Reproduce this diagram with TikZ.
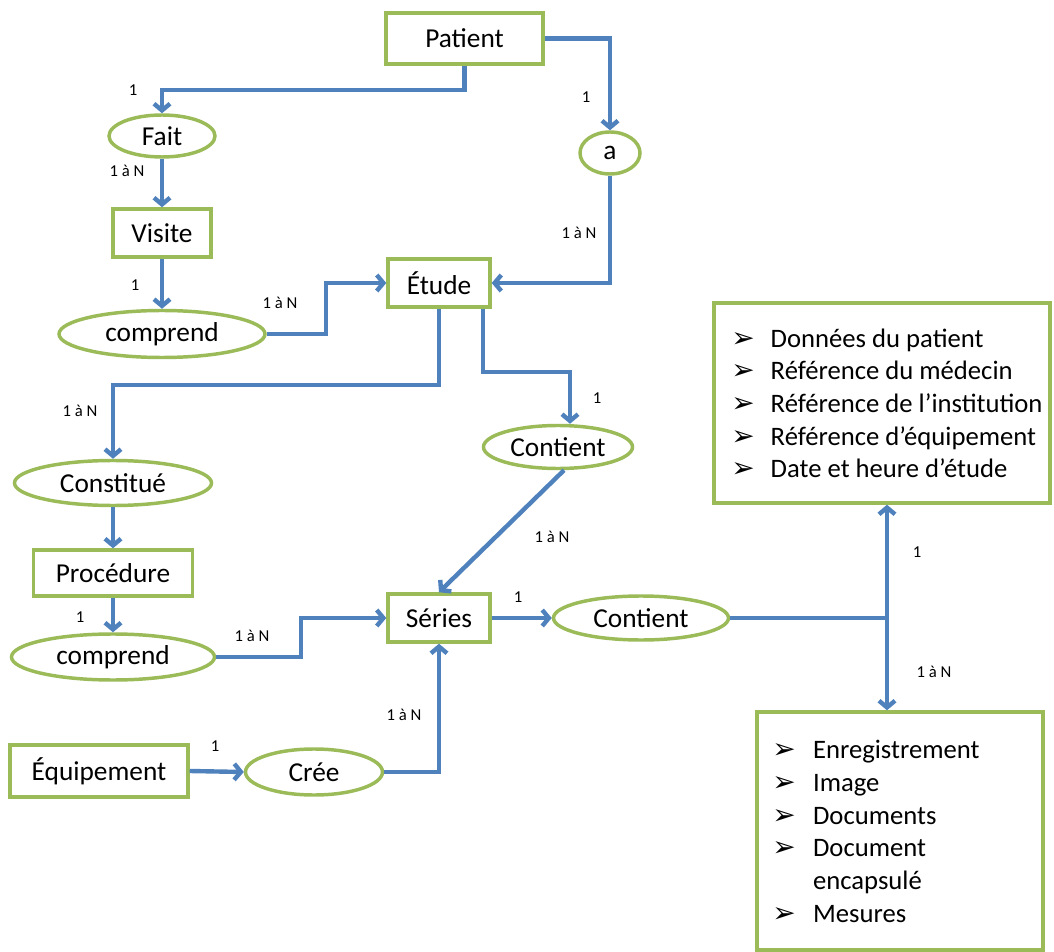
\documentclass[tikz,border=0pt]{standalone}
\usepackage{fontspec}
\setmainfont{Carlito}
\newfontfamily\symfont{DejaVu Sans}
\usetikzlibrary{arrows.meta,shapes.geometric,calc}
\definecolor{ergreen}{HTML}{9BBB59}
\definecolor{erblue}{HTML}{4F81BD}
\newcommand{\bul}{{\symfont\fontsize{21}{21}\selectfont ➢}}
\begin{document}
\begin{tikzpicture}[x=0.75pt,y=-0.75pt,
  sz/.style 2 args={minimum width=#1*0.75pt, minimum height=#2*0.75pt},
  ent/.style={draw=ergreen, line width=2.6pt, rectangle, inner sep=0pt, fill=white, font=\fontsize{20.5}{24}\selectfont},
  rel/.style={draw=ergreen, line width=2.6pt, ellipse, inner sep=0pt, fill=white, font=\fontsize{20.5}{24}\selectfont},
  conn/.style={draw=erblue, line width=3.3pt},
  arr/.style={conn, -{Straight Barb[length=5pt,width=12pt]}},
  card/.style={font=\fontsize{12.5}{14}\selectfont, inner sep=0pt},
  listtext/.style={anchor=west, align=left, inner sep=0pt, font=\fontsize{20}{24.5}\selectfont}
]
\useasboundingbox (0,0) rectangle (1054,952);

% nodes
\node[ent, sz={157}{51}] (patient) at (464.5,38.5) {Patient};
\node[rel, sz={106}{42}] (fait) at (162,136) {Fait};
\node[rel, sz={60}{42}] (a) at (610,153) {a};
\node[ent, sz={98}{48}] (visite) at (162,233) {Visite};
\node[ent, sz={102}{48}] (etude) at (439,283) {Étude};
\node[rel, sz={206}{47}] (comp1) at (162,334) {comprend};
\node[rel, sz={197}{45}] (constitue) at (113,483) {Constitué};
\node[rel, sz={149}{43}] (contient1) at (558,447) {Contient};
\node[ent, sz={159}{46}] (procedure) at (113,573) {Procédure};
\node[ent, sz={102}{48}] (series) at (439,618) {Séries};
\node[rel, sz={175}{44}] (contient2) at (641,618) {Contient};
\node[rel, sz={203}{46}] (comp2) at (113,657) {comprend};
\node[ent, sz={178}{52}] (equip) at (99,771) {Équipement};
\node[rel, sz={137}{46}] (cree) at (314,772) {Crée};
\node[ent, sz={336}{200}] (box1) at (882,403) {};
\node[ent, sz={286}{238}] (box2) at (900,831) {};

\node[listtext] (box1text) at (731,406) {%
\begin{tabular}{@{}l@{\hspace{12pt}}l@{}}
\bul & Données du patient\\
\bul & Référence du médecin\\
\bul & Référence de l’institution\\
\bul & Référence d’équipement\\
\bul & Date et heure d’étude
\end{tabular}};
\node[listtext] (box2text) at (772,834) {%
\begin{tabular}{@{}l@{\hspace{13pt}}l@{}}
\bul & Enregistrement\\
\bul & Image\\
\bul & Documents\\
\bul & Document\\
 & encapsulé\\
\bul & Mesures
\end{tabular}};

% connectors
\draw[arr] (patient.south) -- ++(0,24) -| (fait.north);
\draw[arr] (patient.east) -| (a.north);
\draw[arr] (fait.south) -- (visite.north);
\draw[arr] (visite.south) -- (comp1.north);
\draw[arr] (comp1.east) -- ++(59,0) |- (etude.west);
\draw[arr] (a.south) |- (etude.east);
\draw[arr] (etude.south) -- ++(0,76) -| (constitue.north);
\coordinate (eb) at ($(etude.south)+(44,0)$);
\coordinate (ct) at ($(contient1.north)+(12,0)$);
\draw[arr] (eb) -- ++(0,63) -| (ct);
\draw[arr] ($(contient1.south)+(6,0)$) -- (series.north);
\draw[arr] (constitue.south) -- (procedure.north);
\draw[arr] (procedure.south) -- (comp2.north);
\draw[arr] (comp2.east) -- ++(85,0) |- (series.west);
\draw[arr] (series.east) -- (contient2.west);
\coordinate (j) at (887,618);
\draw[conn] (contient2.east) -- (j);
\draw[arr] (j) -- (j |- box1.south);
\draw[arr] (j) -- (j |- box2.north);
\draw[arr] (cree.east) -| (series.south);
\draw[arr] (equip.east) -- (cree.west);

% cardinalities
\node[card] (c1) at (133,90) {1};
\node[card] (c2) at (586,97) {1};
\node[card] (c3) at (127,171) {1 à N};
\node[card] (c4) at (135,285) {1};
\node[card] (c5) at (280,303) {1 à N};
\node[card] (c6) at (579,233) {1 à N};
\node[card] (c7) at (80,411) {1 à N};
\node[card] (c8) at (597,398) {1};
\node[card] (c9) at (552,537) {1 à N};
\node[card] (c10) at (80,617) {1};
\node[card] (c11) at (252,636) {1 à N};
\node[card] (c12) at (518,597) {1};
\node[card] (c13) at (917,552) {1};
\node[card] (c14) at (934,672) {1 à N};
\node[card] (c15) at (404,715) {1 à N};
\node[card] (c16) at (215,746) {1};
\end{tikzpicture}
\end{document}
